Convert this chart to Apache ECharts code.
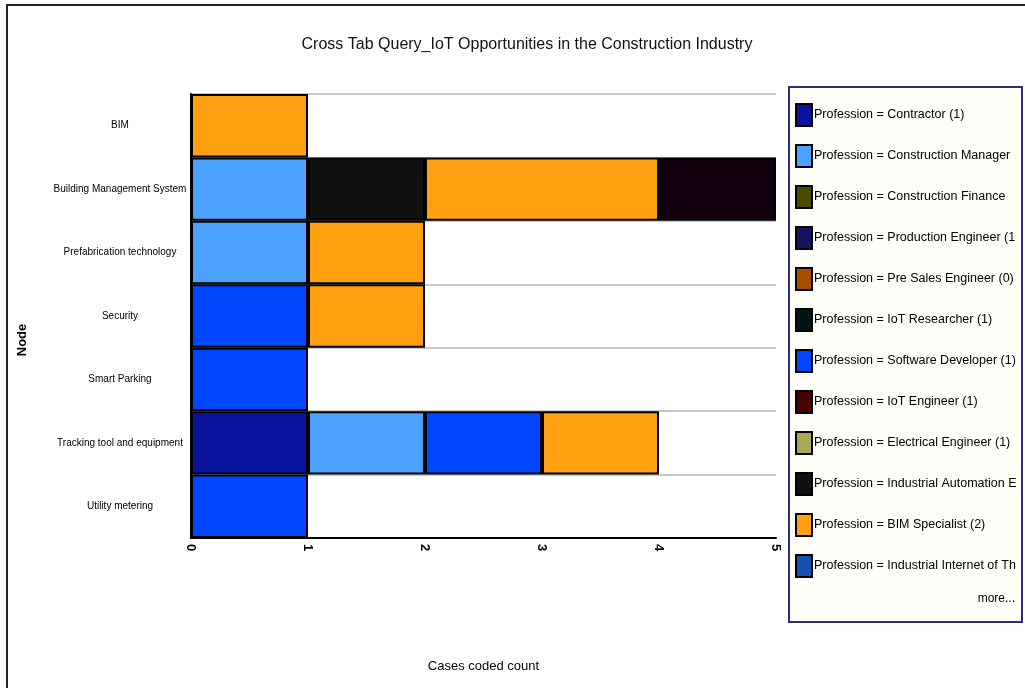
<!DOCTYPE html>
<html>
<head>
<meta charset="utf-8">
<title>Cross Tab Query</title>
<script src="https://cdn.jsdelivr.net/npm/echarts@6/dist/echarts.min.js"></script>
<style>
html, body { margin: 0; padding: 0; background: #fff; }
#chart { width: 1025px; height: 688px; }
</style>
</head>
<body>
<div id="chart"></div>
<script>
// 节点（纵轴）
var nodes = ['BIM', 'Building Management System', 'Prefabrication technology', 'Security',
    'Smart Parking', 'Tracking tool and equipment', 'Utility metering'];

// 职业系列，顺序即堆叠顺序
var professions = [
    'Profession = Contractor (1)',
    'Profession = Construction Manager (3)',
    'Profession = Construction Finance Manager (1)',
    'Profession = Production Engineer (1)',
    'Profession = Pre Sales Engineer (0)',
    'Profession = IoT Researcher (1)',
    'Profession = Software Developer (1)',
    'Profession = IoT Engineer (1)',
    'Profession = Electrical Engineer (1)',
    'Profession = Industrial Automation Expert (1)',
    'Profession = BIM Specialist (2)',
    'Profession = Industrial Internet of Things Expert (1)',
    'Profession = Project Manager (1)'
];
var colors = ['#0a149c', '#4ba3ff', '#4a4a00', '#14145e', '#a84d00', '#001616', '#0047ff',
    '#4a0000', '#a8a855', '#111111', '#ffa010', '#1452b0', '#12000e'];

// 每个职业在各节点上的编码数
var contractor     = [0, 0, 0, 0, 0, 1, 0];
var constManager   = [0, 1, 1, 0, 0, 1, 0];
var constFinance   = [0, 0, 0, 0, 0, 0, 0];
var prodEngineer   = [0, 0, 0, 0, 0, 0, 0];
var preSales       = [0, 0, 0, 0, 0, 0, 0];
var iotResearcher  = [0, 0, 0, 0, 0, 0, 0];
var softwareDev    = [0, 0, 0, 1, 1, 1, 1];
var iotEngineer    = [0, 0, 0, 0, 0, 0, 0];
var electrical     = [0, 0, 0, 0, 0, 0, 0];
var indAutomation  = [0, 1, 0, 0, 0, 0, 0];
var bimSpecialist  = [1, 2, 1, 1, 0, 1, 0];
var iiot           = [0, 0, 0, 0, 0, 0, 0];
var projManager    = [0, 1, 0, 0, 0, 0, 0];

var counts = [contractor, constManager, constFinance, prodEngineer, preSales, iotResearcher,
    softwareDev, iotEngineer, electrical, indAutomation, bimSpecialist, iiot, projManager];

var xTicks = [0, 1, 2, 3, 4, 5];

var font = "'Liberation Sans', Arial, sans-serif";

var series = [];
for (var i = 0; i < professions.length; i++) {
    var data = [];
    for (var j = 0; j < counts[i].length; j++) {
        data.push(counts[i][j] === 0 ? null : counts[i][j]);
    }
    series.push({
        name: professions[i],
        type: 'bar',
        stack: 'total',
        barCategoryGap: '0%',
        data: data,
        itemStyle: {
            color: colors[i],
            borderColor: '#000',
            borderWidth: 2
        }
    });
}

var myChart = echarts.init(document.getElementById('chart'));
var option = {
    backgroundColor: '#fff',
    animation: false,
    color: colors,
    title: {
        text: 'Cross Tab Query_IoT Opportunities in the Construction Industry',
        left: 522,
        textAlign: 'center',
        top: 32,
        textStyle: {
            fontFamily: font,
            fontSize: 16,
            fontWeight: 'normal',
            color: '#111'
        }
    },
    legend: {
        orient: 'vertical',
        left: 795,
        top: 103,
        padding: 0,
        itemWidth: 16,
        itemHeight: 22,
        itemGap: 17,
        selectedMode: false,
        data: professions.slice(0, 12),
        icon: 'rect',
        itemStyle: { borderColor: '#000', borderWidth: 2 },
        textStyle: {
            fontFamily: font,
            fontSize: 12.5,
            color: '#000',
            width: 205,
            overflow: 'truncate',
            ellipsis: '',
            padding: [0, 0, 0, -3]
        }
    },
    grid: {
        left: 191,
        top: 94,
        width: 585,
        height: 444
    },
    xAxis: {
        type: 'value',
        min: 0,
        max: 5,
        interval: 1,
        name: 'Cases coded count',
        nameLocation: 'middle',
        nameGap: 122,
        nameTextStyle: { fontFamily: font, fontSize: 13, color: '#000' },
        axisLine: { show: true, lineStyle: { color: '#000', width: 2 } },
        axisTick: { show: false },
        splitLine: { show: false },
        axisLabel: {
            rotate: -90,
            margin: 6,
            fontSize: 13,
            fontWeight: 'bold',
            color: '#000',
            formatter: function (v) { return xTicks.indexOf(v) >= 0 ? String(v) : ''; }
        }
    },
    yAxis: {
        type: 'category',
        inverse: true,
        data: nodes,
        axisLine: { show: true, lineStyle: { color: '#000', width: 2 } },
        axisTick: { show: false },
        splitLine: { show: true, lineStyle: { color: '#c8c8c8', width: 2 } },
        axisLabel: {
            fontFamily: font,
            fontSize: 10,
            color: '#000',
            align: 'center',
            margin: 71
        }
    },
    graphic: [
        {
            type: 'rect',
            z: -10,
            shape: { x: 7, y: 5, width: 1100, height: 800 },
            style: { fill: '#fff', stroke: '#222', lineWidth: 2 }
        },
        {
            type: 'rect',
            z: -5,
            shape: { x: 789, y: 87, width: 233, height: 535 },
            style: { fill: '#fffef8', stroke: '#2e2e78', lineWidth: 2 }
        },
        {
            type: 'text',
            x: 1015,
            y: 599,
            style: {
                text: 'more...',
                fontFamily: font,
                fontSize: 12,
                fill: '#000',
                align: 'right',
                verticalAlign: 'middle'
            }
        },
        {
            type: 'text',
            x: 22,
            y: 340,
            rotation: Math.PI / 2,
            style: {
                text: 'Node',
                fontFamily: font,
                fontSize: 13,
                fontWeight: 'bold',
                fill: '#000',
                align: 'center',
                verticalAlign: 'middle'
            }
        }
    ],
    series: series
};
myChart.setOption(option);
</script>
</body>
</html>
